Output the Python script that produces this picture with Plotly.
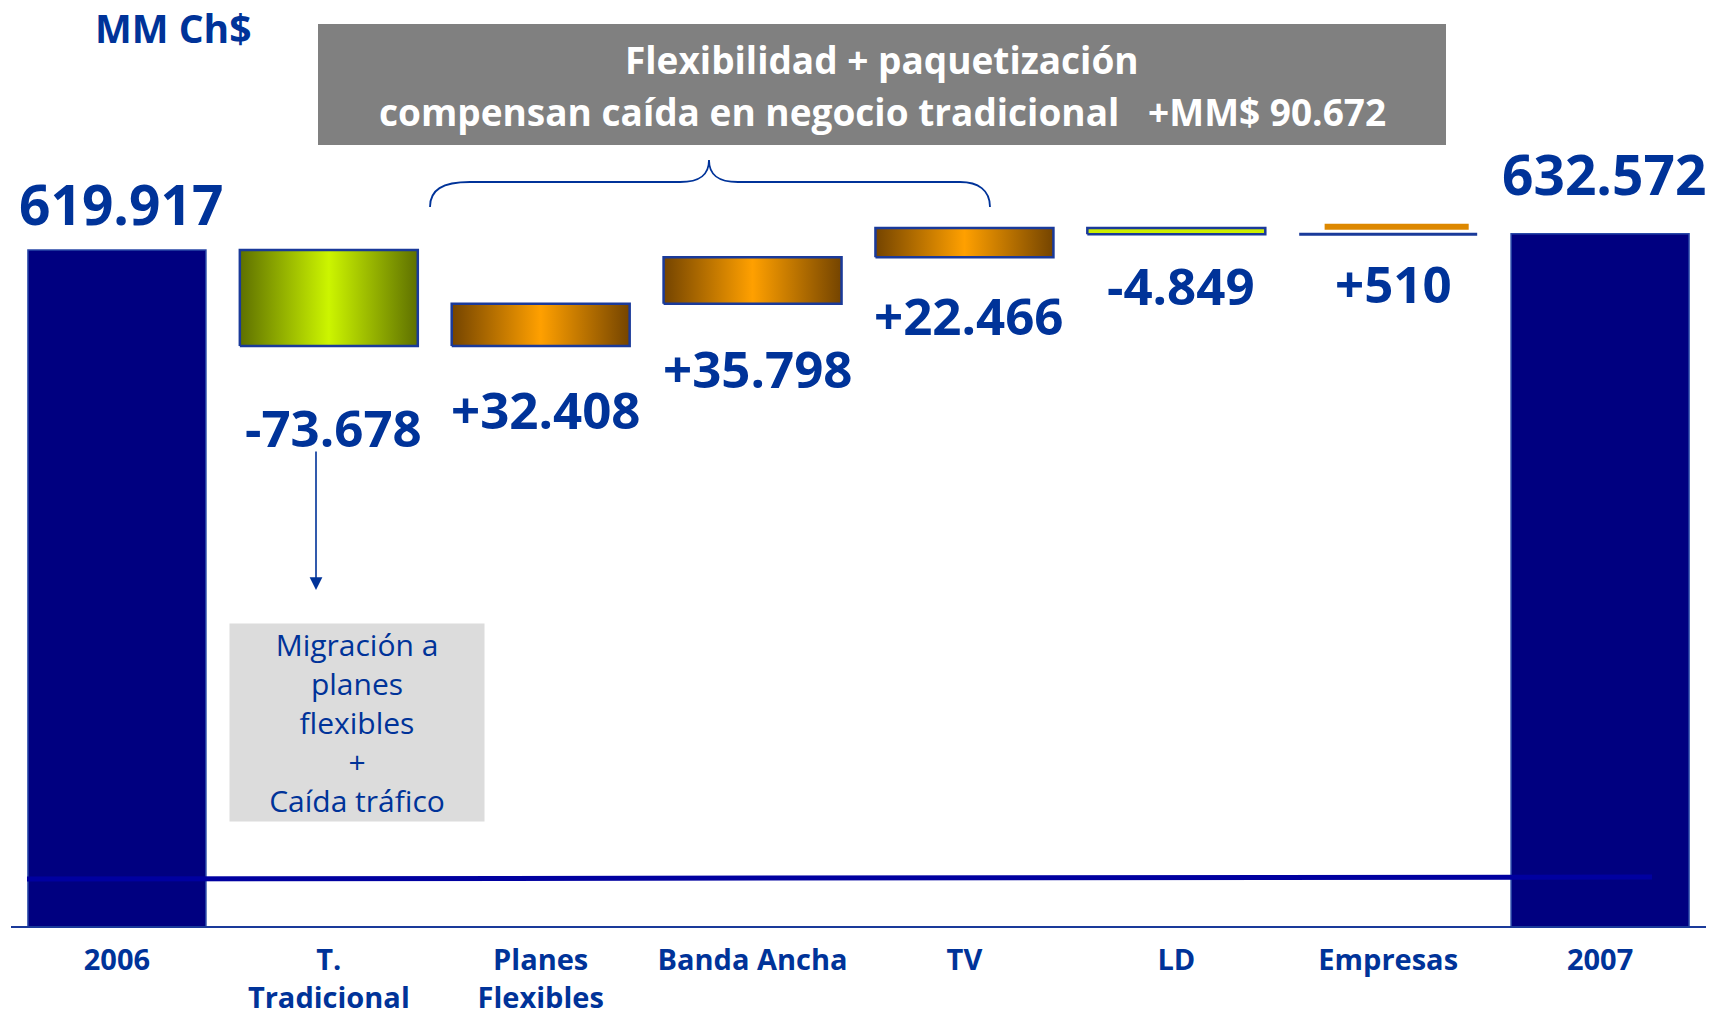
import plotly.graph_objects as go

# ---------------- data ----------------
categories = ["2006", "T.<br>Tradicional", "Planes<br>Flexibles", "Banda Ancha", "TV", "LD", "Empresas", "2007"]
start_total = 619917          # MM Ch$ 2006
changes = [-73678, 32408, 35798, 22466, -4849, 510]   # T. Tradicional .. Empresas
end_total = 632572            # MM Ch$ 2007
title_lines = ["Flexibilidad + paquetización",
               "compensan caída en negocio tradicional\u00a0\u00a0\u00a0+MM$ 90.672"]
note_lines = ["Migración a", "planes", "flexibles", "+", "Caída tráfico"]
unit_label = "MM Ch$"

# ---------------- layout constants ----------------
W, H = 1728, 1019
L, R, T, B = 11, 22, 10, 93
PW, PH = W - L - R, H - T - B
BLUE = "#003399"
NAVY = "#000080"
BORDER = "#1A3A9A"
BARW = 0.84
PPU = 0.0013                     # pixels per MM Ch$
Y0 = 100000
Y1 = Y0 + PH / PPU


def fx(px):
    return (px - L) / PW


def fy(py):
    return (H - B - py) / PH


def fmt(v, sign=False):
    s = f"{v:+,.0f}" if sign else f"{v:,.0f}"
    return s.replace(",", ".")


fig = go.Figure()

# totals
fig.add_trace(go.Bar(
    x=[0, len(categories) - 1], y=[start_total, end_total], width=BARW,
    marker=dict(color=NAVY, line=dict(color="#2848A8", width=1.5)),
    hoverinfo="skip", showlegend=False))

grad_green = [[0, "#5E7000"], [0.5, "#CCF500"], [1, "#5E7000"]]
grad_orange = [[0, "#744400"], [0.5, "#FFA000"], [1, "#744400"]]

annotations = []
level = start_total
for k, ch in enumerate(changes):
    i = k + 1
    lo, hi = sorted([level, level + ch])
    x0, x1 = i - BARW / 2, i + BARW / 2
    cat = categories[i]
    if cat == "LD":
        fill_kw = dict(fillcolor="#CCEE00")
    elif cat == "Empresas":
        fill_kw = dict(fillcolor="#DD8800")
    else:
        g = grad_green if ch < 0 else grad_orange
        fill_kw = dict(fillgradient=dict(type="horizontal", colorscale=g, start=x0, stop=x1))
    fig.add_trace(go.Scatter(
        x=[x0, x1, x1, x0, x0], y=[lo, lo, hi, hi, lo], mode="lines",
        fill="toself", line=dict(color=BORDER, width=3 if cat == "Empresas" else 2.5),
        hoverinfo="skip", showlegend=False, **fill_kw))
    if cat == "Empresas":
        # small orange marker drawn above the (tiny) bar
        oy = hi + 7 / PPU
        fig.add_trace(go.Scatter(
            x=[i - 0.30, i + 0.38], y=[oy, oy], mode="lines",
            line=dict(color="#DD8800", width=6), hoverinfo="skip", showlegend=False))
    hpx = abs(ch) * PPU
    annotations.append(dict(x=i, y=lo, xref="x", yref="y", text=fmt(ch, True),
                            showarrow=False, xanchor="center", yanchor="middle",
                            yshift=-(48 + 0.35 * hpx), xshift=5,
                            font=dict(family="Open Sans", size=51, color=BLUE, weight=700)))
    level += ch

for i, v, ys in [(0, start_total, 47), (len(categories) - 1, end_total, 60)]:
    annotations.append(dict(x=i, y=v, xref="x", yref="y", text=fmt(v),
                            showarrow=False, xanchor="center", yanchor="middle", yshift=ys,
                            xshift=4,
                            font=dict(family="Open Sans", size=55, color=BLUE, weight=700)))

# unit label
annotations.append(dict(x=fx(173), y=fy(28), xref="paper", yref="paper", text=unit_label,
                        showarrow=False, xanchor="center", yanchor="middle",
                        font=dict(family="Open Sans", size=39, color=BLUE, weight=700)))
# title box text
for j, t in enumerate(title_lines):
    annotations.append(dict(x=fx(882), y=fy(60 + 51 * j), xref="paper", yref="paper", text=t,
                            showarrow=False, xanchor="center", yanchor="middle",
                            font=dict(family="Open Sans", size=37, color="white", weight=700)))
# note box (grey background) with its text
annotations.append(dict(x=fx(357), y=fy(722), xref="paper", yref="paper",
                        text="<br>".join(note_lines), showarrow=False,
                        xanchor="center", yanchor="middle", align="center",
                        width=252, height=195, bgcolor="#DCDCDC",
                        font=dict(family="Open Sans", size=30, color=BLUE)))
# arrow
annotations.append(dict(x=fx(316), y=fy(590), xref="paper", yref="paper", text="",
                        showarrow=True, ax=0, ay=-140, arrowhead=2, arrowsize=1.6,
                        arrowwidth=1.6, arrowcolor=BLUE))

shapes = [
    dict(type="rect", xref="paper", yref="paper", x0=fx(318), x1=fx(1446), y0=fy(145), y1=fy(24),
         fillcolor="#808080", line=dict(width=0), layer="below"),
    dict(type="line", xref="paper", yref="paper", x0=fx(27), x1=fx(1652), y0=fy(879), y1=fy(877),
         line=dict(color="#0000A0", width=5), layer="above"),
]
# brace
pts = [(430, 207), (430, 190), (442, 182), (470, 182), (680, 182), (700, 182), (709, 175), (709, 160),
       (709, 175), (718, 182), (738, 182), (960, 182), (978, 182), (990, 190), (990, 207)]
P = [(fx(a), fy(b)) for a, b in pts]
path = (f"M {P[0][0]},{P[0][1]} C {P[1][0]},{P[1][1]} {P[2][0]},{P[2][1]} {P[3][0]},{P[3][1]} "
        f"L {P[4][0]},{P[4][1]} C {P[5][0]},{P[5][1]} {P[6][0]},{P[6][1]} {P[7][0]},{P[7][1]} "
        f"C {P[8][0]},{P[8][1]} {P[9][0]},{P[9][1]} {P[10][0]},{P[10][1]} "
        f"L {P[11][0]},{P[11][1]} C {P[12][0]},{P[12][1]} {P[13][0]},{P[13][1]} {P[14][0]},{P[14][1]}")
shapes.append(dict(type="path", xref="paper", yref="paper", path=path,
                   line=dict(color=BLUE, width=1.8)))

fig.update_layout(
    width=W, height=H, margin=dict(l=L, r=R, t=T, b=B),
    paper_bgcolor="white", plot_bgcolor="white",
    showlegend=False, annotations=annotations, shapes=shapes,
    xaxis=dict(range=[-0.5, len(categories) - 0.5], tickvals=list(range(len(categories))),
               ticktext=[f"<b>{c}</b>" for c in categories], showgrid=False, zeroline=False,
               showline=True, linecolor="#1A3A9A", linewidth=2, ticks="", automargin=False,
               ticklabelstandoff=7,
               tickfont=dict(family="Open Sans", size=29, color=BLUE)),
    yaxis=dict(range=[Y0, Y1], visible=False, showgrid=False, zeroline=False),
)

fig.write_html("out.html", config={"displayModeBar": False},
               post_script="document.body.style.margin='0';document.body.style.overflow='hidden';")
